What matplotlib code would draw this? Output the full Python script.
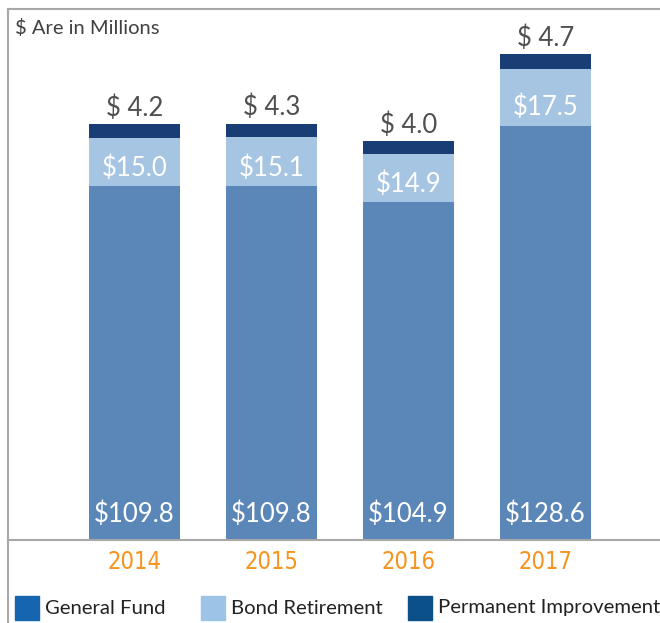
import matplotlib
matplotlib.use("Agg")
import matplotlib.pyplot as plt
from matplotlib.patches import Rectangle
from matplotlib.lines import Line2D
import numpy as np

years = ["2014", "2015", "2016", "2017"]
general_fund = [109.8, 109.8, 104.9, 128.6]
bond_retirement = [15.0, 15.1, 14.9, 17.5]
permanent_improvement = [4.2, 4.3, 4.0, 4.7]
legend_labels = ["General Fund", "Bond Retirement", "Permanent Improvement"]

c_gen, c_bond, c_perm = "#5b87b8", "#a6c5e3", "#183e75"
leg_colors = ["#1565b0", "#9dc3e6", "#0b5089"]

W, H = 660, 623
fig = plt.figure(figsize=(W / 100, H / 100), dpi=100)
ax = fig.add_axes([8 / W, (H - 540) / H, 1 - 8 / W, (540 - 9) / H])

x = np.arange(len(years))
width = 0.664
gen = np.array(general_fund)
bond = np.array(bond_retirement)
perm = np.array(permanent_improvement)

ax.bar(x, gen, width, color=c_gen)
ax.bar(x, bond, width, bottom=gen, color=c_bond)
ax.bar(x, perm, width, bottom=gen + bond, color=c_perm)

font = "Lato"
for i in range(len(years)):
    ax.text(x[i], 8, f"${gen[i]:.1f}", ha="center", va="center", color="white",
            fontsize=18.5, family=font)
    ax.text(x[i], gen[i] + 5.6, f"${bond[i]:.1f}", ha="center", va="center",
            color="white", fontsize=18.5, family=font)
    ax.text(x[i], gen[i] + bond[i] + perm[i] + 1.0, f"$ {perm[i]:.1f}",
            ha="center", va="bottom", color="#505050", fontsize=18.5,
            family=font)

ax.set_xlim(-126.5 / 137, (652 - 126.5) / 137)
ax.set_ylim(0, 150.8 * 531 / 486)
ax.set_xticks(x)
ax.set_xticklabels(years, color="#f7941d", fontsize=17,
                   family="DejaVu Sans", fontstretch="condensed")
ax.tick_params(axis="x", length=0, pad=7)
ax.set_yticks([])
for s in ["top", "right", "left"]:
    ax.spines[s].set_visible(False)
ax.spines["bottom"].set_color("#a8a8a8")
ax.spines["bottom"].set_linewidth(1.5)

# frame lines
fig.add_artist(Line2D([8 / W, 8 / W], [0, (H - 9) / H], color="#a8a8a8", lw=1.5,
                      transform=fig.transFigure))
fig.add_artist(Line2D([8 / W, 1], [(H - 9) / H, (H - 9) / H], color="#a8a8a8",
                      lw=1.5, transform=fig.transFigure))

fig.text(15 / W, (H - 28) / H, "$ Are in Millions", ha="left", va="center",
         fontsize=14.5, color="#404040", family=font)

# legend
leg_x = [15, 201, 408]
for lx, col, lab in zip(leg_x, leg_colors, legend_labels):
    fig.add_artist(Rectangle((lx / W, (H - 620) / H), 24 / W, 24 / H,
                             color=col, transform=fig.transFigure))
    fig.text((lx + 30) / W, (H - 608) / H, lab, ha="left", va="center",
             fontsize=14.6, color="#222222", family=font)

fig.savefig("out.png", dpi=100)
